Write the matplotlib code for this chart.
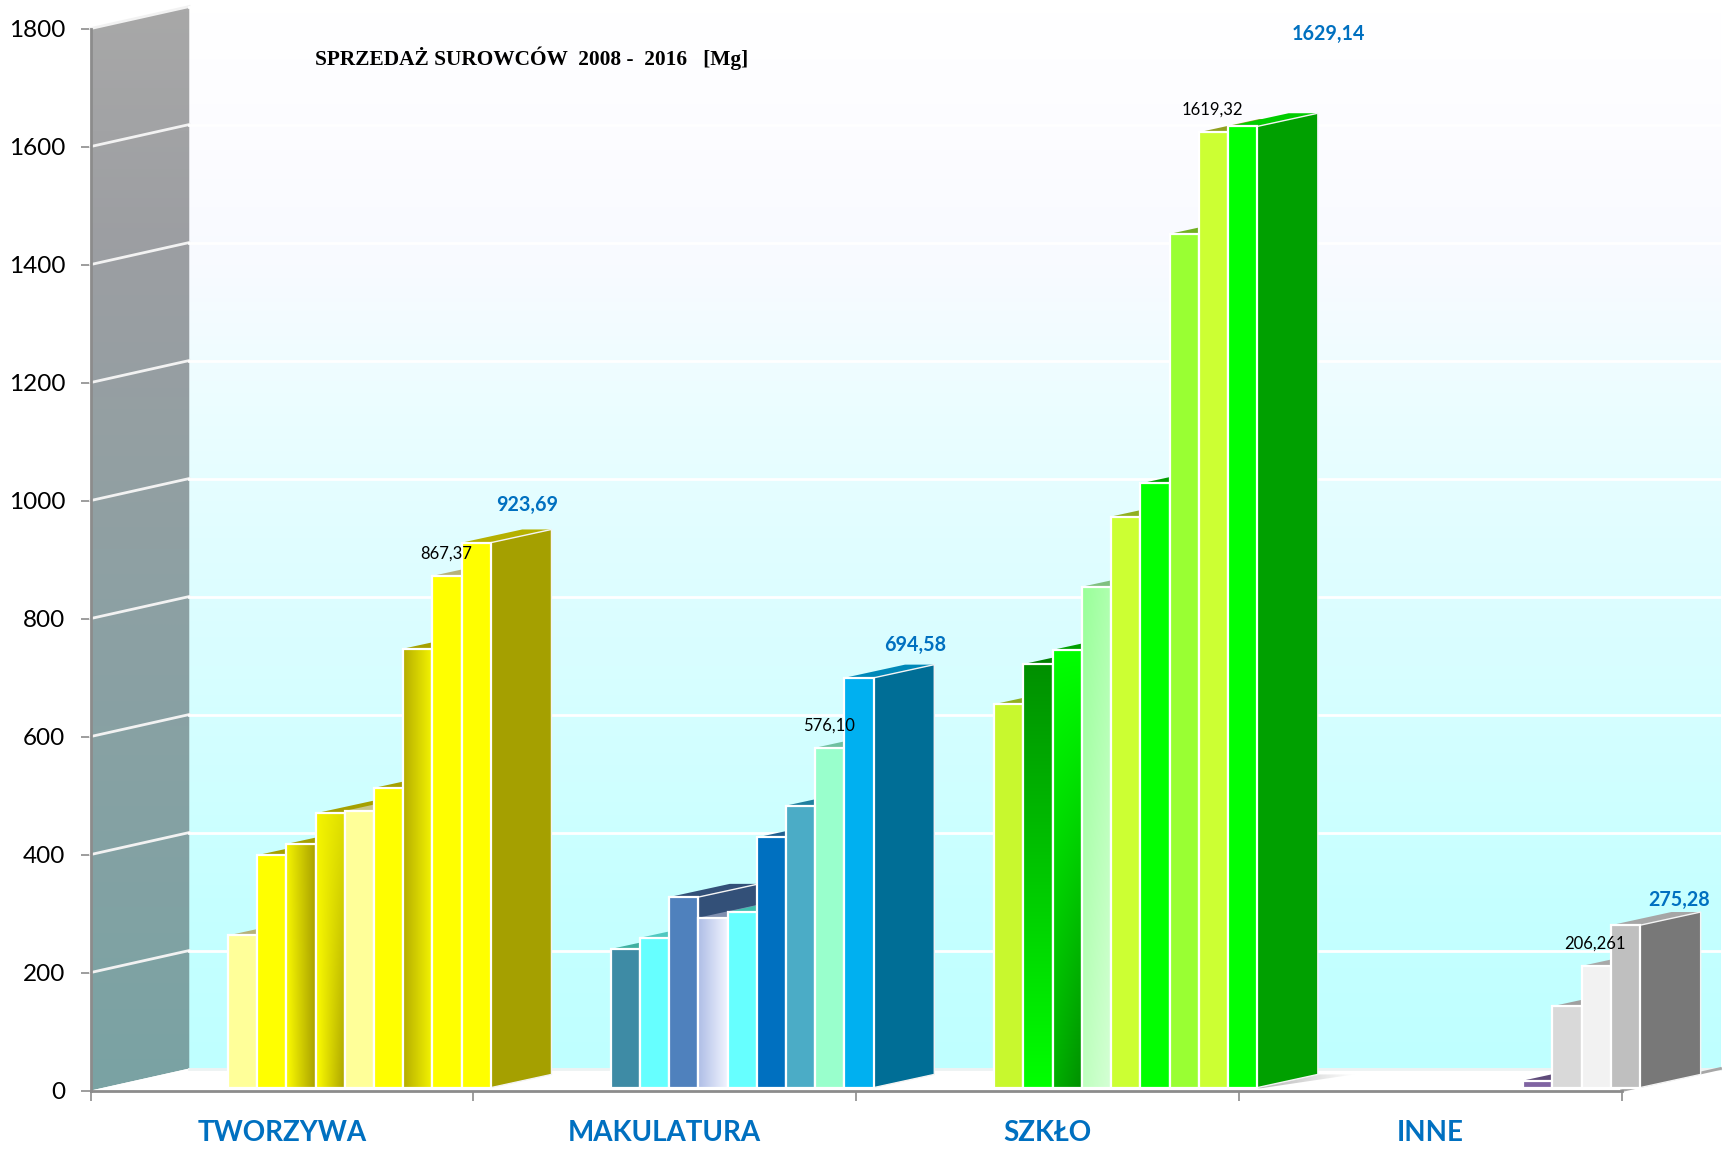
import numpy as np
import matplotlib
matplotlib.use('Agg')
import matplotlib.pyplot as plt
from matplotlib.colors import LinearSegmentedColormap, to_rgb
from matplotlib.patches import Polygon

plt.rcParams['font.family'] = ['Lato', 'DejaVu Sans']

# data
categories = ['TWORZYWA', 'MAKULATURA', 'SZKŁO', 'INNE']
yticks = [0, 200, 400, 600, 800, 1000, 1200, 1400, 1600, 1800]

tworzywa = [258, 394, 413, 465, 469, 508, 744, 867.37, 923.69]
makulatura = [235, 254, 323, 288, 298, 424, 478, 576.10, 694.58]
szklo = [650, 718, 742, 849, 968, 1024, 1447, 1619.32, 1629.14]
inne = [0, 0, 0, 0, 0, 12, 138, 206.261, 275.28]

# a tuple is a gradient: bottom left, bottom right, top left, top right
tworzywa_col = ['#FFFF99', '#FFFF00', ('#FFFF00', '#A8A000', '#F5F500', '#A8A000'),
                ('#FFFF00', '#A8A000', '#F5F500', '#DDDD00'), '#FFFF99',
                '#FFFF00', ('#B5AD00', '#F5F500', '#B5AD00', '#F5F500'), '#FFFF00', '#FFFF00']
makulatura_col = ['#3E8BA5', '#66FFFF', '#4F81BD', ('#AEBDE6', '#F2F5FF', '#AEBDE6', '#F2F5FF'), '#66FFFF',
                  '#0070C0', '#4BACC6', '#99FFCC', '#00B0F0']
szklo_col = ['#C8F82E', ('#00FF00', '#00FF00', '#009000', '#009000'),
             ('#00B000', '#008F00', '#00FF00', '#00FF00'),
             ('#BEFFBE', '#D5FFD5', '#99FF99', '#B0FFB0'),
             '#CCFF33', '#00FF00', '#99FF33', '#CCFF33', '#00FF00']
inne_col = ['#FFFFFF'] * 5 + ['#8064A2', '#D9D9D9', '#F2F2F2', '#BFBFBF']

tworzywa_side = ['#B5B27A', '#A5A000', '#A5A000', '#A5A000', '#C9C68A', '#A5A000', '#A5A000', '#B5B27A', '#A5A000']
makulatura_side = ['#3FB0A0', '#50C8C0', '#335078', '#8090B0', '#40C0B0', '#1F5F90', '#1F7F9F', '#70C0A0', '#006E96']
szklo_side = ['#90B020', '#008000', '#00A000', '#80C080', '#90B020', '#00A000', '#70B020', '#90A020', '#00A000']
inne_side = ['#FFFFFF'] * 5 + ['#5F4B7A', '#A0A0A0', '#A8A8A8', '#787878']
last_roof = ['#B5B000', '#0088B8', '#00CC00', '#A6A6A6']

groups = [tworzywa, makulatura, szklo, inne]
group_cols = [tworzywa_col, makulatura_col, szklo_col, inne_col]
group_sides = [tworzywa_side, makulatura_side, szklo_side, inne_side]

side_labels = ['867,37', '576,10', '1619,32', '206,261']
last_labels = ['923,69', '694,58', '1629,14', '275,28']

# layout of the fake 3d
wall_dx, wall_dy = 0.258, 37.4
bar_dx, bar_dy = 0.1585, 22.4
bar_w = 0.0763
bar_start = [0.359, 0.359, 0.361, 0.361]
base = 5

fig = plt.figure(figsize=(17.29, 11.54), dpi=100)
ax = fig.add_axes([0, 0, 1, 1])
ax.patch.set_visible(False)


def gradient(stops, extent, clip=None, zorder=1):
    cmap = LinearSegmentedColormap.from_list('g', stops)
    arr = np.linspace(0, 1, 256).reshape(-1, 1)
    im = ax.imshow(arr, cmap=cmap, extent=extent, origin='lower', aspect='auto', zorder=zorder,
                   interpolation='bilinear')
    if clip is not None:
        clip.set_transform(ax.transData)
        im.set_clip_path(clip)
    return im


def corners(cols, extent, zorder):
    bl, br, tl, tr = [np.array(to_rgb(c)) for c in cols]
    n = 64
    u = np.linspace(0, 1, n).reshape(1, -1, 1)
    v = np.linspace(0, 1, n).reshape(-1, 1, 1)
    arr = (1 - v) * ((1 - u) * bl + u * br) + v * ((1 - u) * tl + u * tr)
    ax.imshow(arr, extent=extent, origin='lower', aspect='auto', zorder=zorder, interpolation='bilinear')


# walls
top = 1800 + wall_dy
back_stops = [(0, '#BFFFFF'), (0.16, '#C6FFFF'), (0.27, '#D0FFFF'), (0.49, '#E0FDFF'), (0.65, '#EEFDFF'),
              (0.76, '#F8FAFF'), (0.87, '#FCFCFF'), (1, '#FFFFFF')]
gradient(back_stops, [wall_dx, 4 + wall_dx, wall_dy, top])
left_wall = [(0, 0), (wall_dx, wall_dy), (wall_dx, top), (0, 1800)]
gradient([(0, '#7AA3A3'), (0.5, '#8FA0A3'), (0.78, '#9C9EA2'), (1, '#A8A8A8')], [0, wall_dx, 0, top],
         clip=Polygon(left_wall))

# floor
floor = [(0, 0), (4, 0), (4 + wall_dx, wall_dy), (wall_dx, wall_dy)]
ax.add_patch(Polygon(floor, closed=True, fc='white', ec='none', zorder=1.5))
ax.plot([wall_dx, 4 + wall_dx], [wall_dy, wall_dy], color='#EDF2F2', lw=2, zorder=1.6)
ax.plot([4, 4 + wall_dx], [0, wall_dy], color='#A6A6A6', lw=2, zorder=1.6)

# grid
for t in yticks[1:]:
    ax.plot([0, wall_dx], [t, t + wall_dy], color='#F2F2F2', lw=2, zorder=2)
    ax.plot([wall_dx, 4 + wall_dx], [t + wall_dy, t + wall_dy], color='white', lw=2, zorder=2)

# shadow of the biggest bar on the floor
end = 2 + bar_start[2] + 9 * bar_w
shadow = [(end - 0.24, 4), (end + bar_dx, base + bar_dy), (end + bar_dx + 0.095, base + bar_dy), (end + 0.01, 4)]
shadow_cmap = LinearSegmentedColormap.from_list('s', ['#A8A8A8', '#FFFFFF'])
im = ax.imshow(np.linspace(0, 1, 128).reshape(1, -1), cmap=shadow_cmap, origin='lower', aspect='auto',
               extent=[end - 0.24 + 0.2, end + bar_dx + 0.095, 0, base + bar_dy], zorder=1.8)
clip = Polygon(shadow, transform=ax.transData)
im.set_clip_path(clip)

# bars
z = 3
for i, (vals, cols, sides) in enumerate(zip(groups, group_cols, group_sides)):
    for j, (v, c, s) in enumerate(zip(vals, cols, sides)):
        if v == 0:
            continue
        left = i + bar_start[i] + bar_w * j
        right = left + bar_w
        up = base + v
        side = [(right, base), (right + bar_dx, base + bar_dy), (right + bar_dx, up + bar_dy), (right, up)]
        roof = [(left, up), (right, up), (right + bar_dx, up + bar_dy), (left + bar_dx, up + bar_dy)]
        roof_col = last_roof[i] if j == 8 else s
        ax.add_patch(Polygon(roof, closed=True, fc=roof_col, ec='none', zorder=z))
        ax.add_patch(Polygon(side, closed=True, fc=s, ec='#F4F4F4', lw=1, zorder=z))
        z += 1
        if isinstance(c, tuple):
            corners(c, [left, right, base, up], z)
            ax.bar(left, v, bar_w, bottom=base, align='edge', fc='none', ec='white', lw=1.6, zorder=z + 0.5)
        else:
            ax.bar(left, v, bar_w, bottom=base, align='edge', fc=c, ec='white', lw=1.6, zorder=z)
        z += 1

# labels on the bars
for i, vals in enumerate(groups):
    ax.text(i + bar_start[i] + bar_w * 7.5 - 0.003, vals[7] + 43, side_labels[i], ha='center', va='center',
            fontsize=12, color='black', zorder=200)

blue = '#0070C0'
last_pos = [(1.141, 992), (2.155, 755), (3.233, 1791), (4.15, 323)]
for (x, y), s in zip(last_pos, last_labels):
    ax.text(x, y, s, ha='center', va='center', fontsize=14.2, fontweight='bold', color=blue, zorder=200)

ax.text(1.153, 1750, 'SPRZEDAŻ SUROWCÓW  2008 -  2016   [Mg]', ha='center', va='center',
        fontsize=15.4, fontweight='bold', family='Liberation Serif', color='black', zorder=200)

# axes
ax.set_xlim(-90.5 / 382.8, (1729 - 90.5) / 382.8)
ax.set_ylim(-(1154 - 1090.6) / 0.59, 1090.6 / 0.59)
ax.spines['top'].set_visible(False)
ax.spines['right'].set_visible(False)
for name in ['left', 'bottom']:
    ax.spines[name].set_position(('data', 0))
    ax.spines[name].set_color('#8C8C8C')
    ax.spines[name].set_linewidth(2)
    ax.spines[name].set_zorder(150)
ax.spines['left'].set_bounds(0, 1800)
ax.spines['bottom'].set_bounds(0, 4)

ax.set_yticks(yticks)
ax.tick_params(axis='y', length=7, width=1.2, color='#8C8C8C', labelsize=17.5, pad=11)
ax.set_xticks([0, 1, 2, 3, 4])
ax.set_xticklabels([])
ax.tick_params(axis='x', which='major', length=7, width=1.2, color='#8C8C8C')
ax.set_xticks([0.5, 1.5, 2.5, 3.5], minor=True)
ax.set_xticklabels(categories, minor=True, fontsize=20, fontweight='bold', color=blue)
ax.tick_params(axis='x', which='minor', length=0, pad=21)

fig.savefig('out.png', dpi=100)
